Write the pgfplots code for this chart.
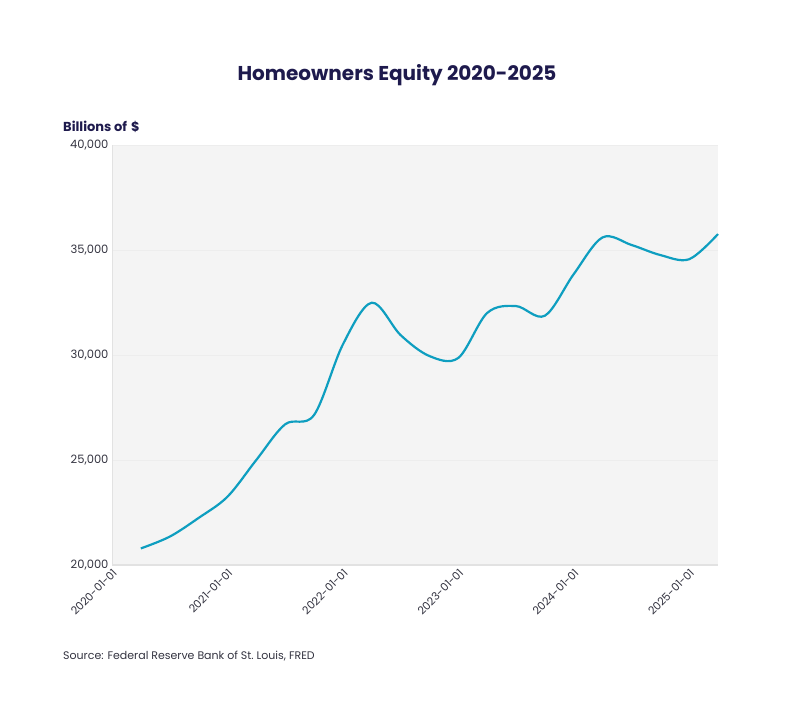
\documentclass[border=0pt]{standalone}
\usepackage{pgfplots}
\pgfplotsset{compat=1.18}
\usepackage{fontspec}
\setmainfont{Poppins}
\definecolor{navy}{HTML}{1E1A4D}
\definecolor{teal}{HTML}{0E9EC0}
\definecolor{bgray}{HTML}{F4F4F4}
\definecolor{axgray}{HTML}{E2E2E2}
\definecolor{txt}{HTML}{333340}
\begin{document}
\begin{tikzpicture}[x=1pt,y=1pt]
\path[use as bounding box] (0,0) rectangle (794,722);
\begin{axis}[
  at={(112pt,157pt)}, anchor=south west,
  width=606pt, height=420pt, scale only axis,
  xmin=2020, xmax=2025.25, ymin=20000, ymax=40000,
  axis background/.style={fill=bgray},
  axis x line*=bottom, axis y line*=left,
  x axis line style={draw=axgray, line width=2pt, -},
  y axis line style={draw=axgray, line width=0.8pt, -},
  xtick={2020,2021,2022,2023,2024,2025},
  xticklabels={2020-01-01,2021-01-01,2022-01-01,2023-01-01,2024-01-01,2025-01-01},
  x tick label style={rotate=45, anchor=north east, font=\fontsize{11}{13}\selectfont, text=txt, inner sep=2pt},
  ytick={20000,25000,30000,35000,40000},
  scaled y ticks=false,
  y tick label style={font=\fontsize{11.5}{13}\selectfont, text=txt},
  /pgf/number format/1000 sep={,},
  /pgf/number format/assume math mode=true,
  major tick length=0pt,
  ymajorgrids, grid style={draw=black!7, line width=0.8pt},
  clip=false,
]
\addplot[teal, line width=2.2pt, smooth, tension=0.55] coordinates {
(2020.25,20790) (2020.5,21350) (2020.75,22240) (2021.0,23250)
(2021.25,25000) (2021.5,26700) (2021.75,27140) (2022.0,30500)
(2022.25,32490) (2022.5,30950) (2022.75,29950) (2023.0,29860)
(2023.25,32000) (2023.5,32330) (2023.75,31870) (2024.0,33850)
(2024.25,35600) (2024.5,35240) (2024.75,34760) (2025.0,34560)
(2025.25,35760)
};
\end{axis}
\node[font=\fontsize{20}{24}\selectfont\bfseries, text=navy] at (397,647) {Homeowners Equity 2020-2025};
\node[font=\fontsize{13}{15}\selectfont\bfseries, text=navy, anchor=west, inner sep=0pt] at (63,595) {Billions of\hspace{0.3em}\$};
\node[font=\fontsize{11}{13}\selectfont, text=txt, anchor=west, inner sep=0pt] at (63,66) {Source: Federal Reserve Bank of St.\ Louis, FRED};
\end{tikzpicture}
\end{document}
